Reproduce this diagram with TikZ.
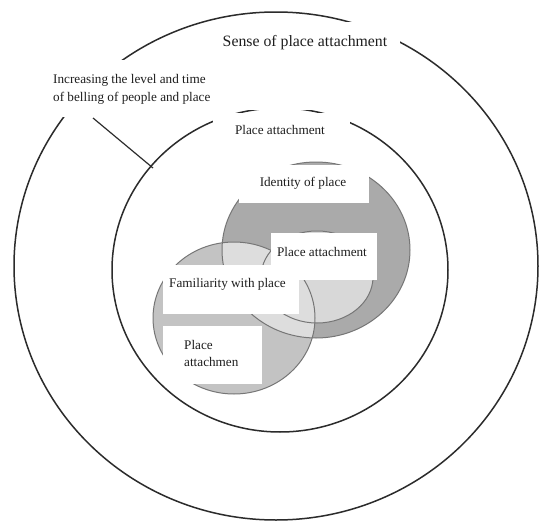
\documentclass[tikz,border=0pt]{standalone}
\usepackage{fontspec}
\setmainfont{Liberation Serif}
\definecolor{ringc}{HTML}{2B2B2B}
\definecolor{darkfill}{HTML}{AAAAAA}
\definecolor{midfill}{HTML}{C3C3C3}
\definecolor{lightfill}{HTML}{D8D8D8}
\definecolor{overfill}{HTML}{DDDDDD}
\definecolor{edgec}{HTML}{767676}
\definecolor{txtc}{HTML}{1E1E1E}
\tikzset{
  ring/.style={draw=ringc, line width=1.5pt},
  softedge/.style={draw=edgec, line width=1pt},
  whitebox/.style={fill=white, draw=none, inner sep=0pt},
  lbl/.style={text=txtc, inner sep=0pt, font=\fontsize{13.2}{18}\selectfont},
  biglbl/.style={text=txtc, inner sep=0pt, font=\fontsize{15.8}{19}\selectfont},
}
\begin{document}
\begin{tikzpicture}[x=1pt,y=-1pt]
\useasboundingbox[fill=white] (0,0) rectangle (539,522);
% rings
\draw[ring] (276,266) ellipse [x radius=262pt, y radius=254pt];
\draw[ring] (280,270) ellipse [x radius=168pt, y radius=162pt];
% fills of inner circles
\fill[darkfill] (316,250) ellipse [x radius=94pt, y radius=88pt];
\fill[lightfill] (317,277) ellipse [x radius=56pt, y radius=46pt];
\fill[midfill] (234,318) ellipse [x radius=81pt, y radius=76pt];
\begin{scope}
  \clip (316,250) ellipse [x radius=94pt, y radius=88pt];
  \fill[overfill] (234,318) ellipse [x radius=81pt, y radius=76pt];
\end{scope}
% edges
\draw[softedge] (316,250) ellipse [x radius=94pt, y radius=88pt];
\draw[softedge] (317,277) ellipse [x radius=56pt, y radius=46pt];
\draw[softedge] (234,318) ellipse [x radius=81pt, y radius=76pt];
% connector
\coordinate (lnA) at (93,118);
\coordinate (lnB) at (153,168);
\draw[ringc, line width=1.2pt] (lnA) -- (lnB);
% white boxes
\fill[white] (242,80) rectangle (347,110);
\node[whitebox, minimum width=168pt, minimum height=57pt] (bxInc) at (129,88.5) {};
\node[whitebox, minimum width=187pt, minimum height=41pt] (bxSense) at (306.5,42.5) {};
\node[whitebox, minimum width=137pt, minimum height=37pt] (bxPA1) at (281.5,131.5) {};
\node[whitebox, minimum width=130pt, minimum height=38pt] (bxId) at (304,184) {};
\node[whitebox, minimum width=106pt, minimum height=47pt] (bxPA2) at (324,256.5) {};
\node[whitebox, minimum width=136pt, minimum height=49pt] (bxFam) at (231,289.5) {};
\node[whitebox, minimum width=99pt, minimum height=58pt] (bxPA3) at (212.5,355) {};
% texts
\node[biglbl] (tSense) at (305,43) {Sense of place attachment};
\node[lbl, anchor=west, align=left] (tInc) at (53,89) {Increasing the level and time\\of belling of people and place};
\node[lbl] (tPA1) at (280,130) {Place attachment};
\node[lbl] (tId) at (303,183) {Identity of place};
\node[lbl] (tPA2) at (322,252) {Place attachment};
\node[lbl, anchor=west] (tFam) at (169,284) {Familiarity with place};
\node[lbl, anchor=west, align=left, font=\fontsize{13.2}{17}\selectfont] (tPA3) at (184,353.5) {Place\\attachmen};
\end{tikzpicture}
\end{document}
